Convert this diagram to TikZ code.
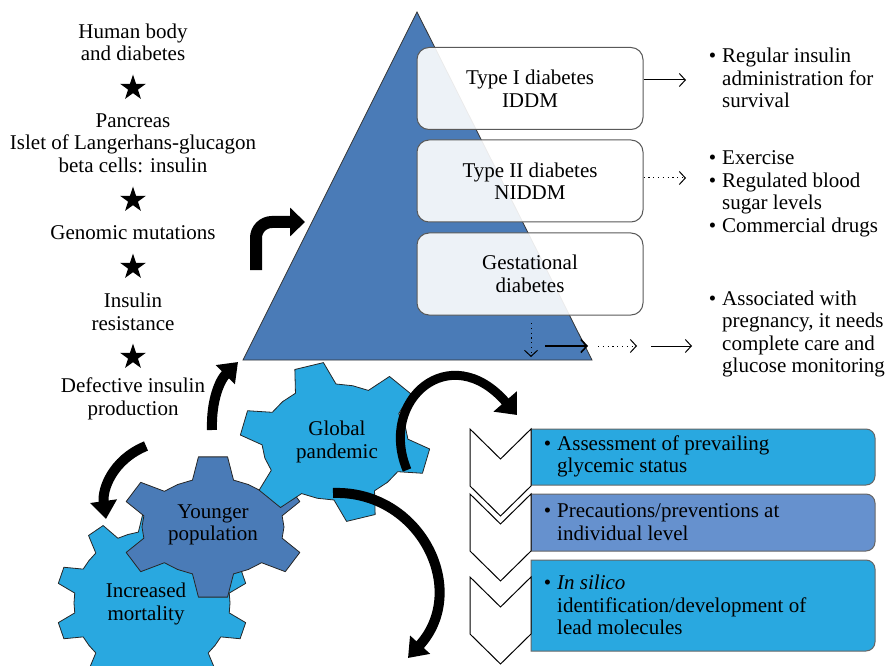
\documentclass[tikz,border=0pt]{standalone}
\usepackage{fontspec}
\setmainfont{Liberation Serif}
\usetikzlibrary{shapes,arrows.meta,positioning,calc}

\definecolor{triblue}{RGB}{74,123,183}
\definecolor{gcyan}{RGB}{41,168,224}
\definecolor{midblue}{RGB}{102,145,206}

\newcommand{\bigtext}{\fontsize{21}{22.5}\selectfont}
\newcommand{\bul}{\leavevmode\llap{\textbullet\hspace{6pt}}}

% gear outline: cx, cy, rx, ry, teeth, rotation, tooth length, colour
\newcommand{\gear}[8]{%
  \draw[gearedge, fill=#8] ({#1+#3*cos(#6+0.5*360/#5)},{#2+#4*sin(#6+0.5*360/#5)})
  \foreach \k in {1,...,#5}{
    -- ({#1+#3*cos(#6+(\k-0.28)*360/#5)},{#2+#4*sin(#6+(\k-0.28)*360/#5)})
    -- ({#1+(#3+#7)*cos(#6+(\k-0.15)*360/#5)},{#2+(#4+#7)*sin(#6+(\k-0.15)*360/#5)})
    -- ({#1+(#3+#7)*cos(#6+(\k+0.15)*360/#5)},{#2+(#4+#7)*sin(#6+(\k+0.15)*360/#5)})
    -- ({#1+#3*cos(#6+(\k+0.28)*360/#5)},{#2+#4*sin(#6+(\k+0.28)*360/#5)})
    -- ({#1+#3*cos(#6+(\k+0.5)*360/#5)},{#2+#4*sin(#6+(\k+0.5)*360/#5)})
  } -- cycle;}

% list box with square left side: top, bottom, colour
\newcommand{\listbox}[3]{%
  \draw[boxedge, fill=#3] (531,#1) -- (866,#1) arc[start angle=90,end angle=0,radius=9pt]
    -- (875,#2-9) arc[start angle=0,end angle=-90,radius=9pt] -- (531,#2) -- cycle;}

% chevron: top
\newcommand{\chev}[1]{%
  \draw[chevron] (470,#1) -- (500.5,#1+30) -- (531,#1) -- (531,#1+57) -- (500.5,#1+87) -- (470,#1+57) -- cycle;}

\begin{document}
\begin{tikzpicture}[x=1pt, y=-1pt]
    \tikzstyle{txt} = [align=center, inner sep=0pt, font=\bigtext]
    \tikzstyle{sidetext} = [align=left, inner sep=0pt, anchor=west, font=\bigtext]
    \tikzstyle{typebox} = [rectangle, rounded corners=12pt, draw=black!65, line width=1pt, fill=white, fill opacity=0.9, text opacity=1, minimum width=226pt, minimum height=82pt, align=center, font=\bigtext]
    \tikzstyle{starmark} = [star, star points=5, star point ratio=2.6, fill=black, inner sep=0pt, minimum size=27pt]
    \tikzstyle{gearedge} = [draw=black!85, line width=0.8pt, line join=round]
    \tikzstyle{boxedge} = [draw=black!60, line width=1pt]
    \tikzstyle{chevron} = [draw=black, fill=white, line width=1pt]
    \tikzstyle{fatarrow} = [line width=10pt, -{Triangle[length=18pt,width=26pt]}]
    \tikzstyle{thinarrow} = [line width=1pt, -{Straight Barb[length=6pt,width=13pt]}]
    \tikzstyle{dotarrow} = [thinarrow, dash pattern=on 1.2pt off 3.6pt]

    \useasboundingbox (0,0) rectangle (887,666);

    % Left column
    \node[txt] (body) at (133,42.5) {Human body\\and diabetes};
    \node[starmark] (s1) at (133,88) {};
    \node[txt] (pancreas) at (133,143) {Pancreas\\Islet of Langerhans-glucagon\\beta cells: insulin};
    \node[starmark] (s2) at (133,200) {};
    \node[txt] (genomic) at (133,233) {Genomic mutations};
    \node[starmark] (s3) at (133,267) {};
    \node[txt] (resist) at (133,312) {Insulin\\resistance};
    \node[starmark] (s4) at (133,357) {};
    \node[txt] (defect) at (133,399) {Defective insulin\\production};

    % Pyramid
    \coordinate (apex) at (417,12);
    \coordinate (baseL) at (243,360);
    \coordinate (baseR) at (592,360);
    \draw[fill=triblue, draw=black!80, line width=0.8pt] (apex) -- (baseR) -- (baseL) -- cycle;

    % Types of diabetes
    \node[typebox] (type1) at (530,88.5) {Type I diabetes\\IDDM};
    \node[typebox] (type2) at (530,181) {Type II diabetes\\NIDDM};
    \node[typebox] (gest) at (530,274) {Gestational\\diabetes};

    % Treatments
    \node[sidetext] (treat1) at (722,78) {\bul Regular insulin\\administration for\\survival};
    \node[sidetext] (treat2) at (722,194) {\bul Exercise\\\bul Regulated blood\\sugar levels\\\bul Commercial drugs};
    \node[sidetext] (treat3) at (722,334) {\bul Associated with\\pregnancy, it needs\\complete care and\\glucose monitoring};

    \coordinate (r1) at (686,80);
    \coordinate (r2) at (686,178);
    \coordinate (d1) at (531,323);
    \coordinate (d2) at (531,357);
    \coordinate (g1) at (545,346);
    \coordinate (g2) at (588,346);
    \coordinate (g3) at (598,346);
    \coordinate (g4) at (637,346);
    \coordinate (g5) at (651,346);
    \coordinate (g6) at (692,346);
    \draw[thinarrow] (type1.east |- r1) -- (r1);
    \draw[dotarrow] (type2.east |- r2) -- (r2);
    \draw[dotarrow] (d1) -- (d2);
    \draw[thinarrow, line width=1.6pt] (g1) -- (g2);
    \draw[dotarrow] (g3) -- (g4);
    \draw[thinarrow] (g5) -- (g6);

    % Gears
    \gear{152}{603}{78}{72}{10}{18}{18}{gcyan}
    \gear{213}{527}{71}{49}{6}{30}{22}{triblue}
    \gear{335}{442}{73}{58}{6}{14}{22}{gcyan}
    \node[txt] (mortality) at (146,604) {Increased\\mortality};
    \node[txt] (younger) at (213,525) {Younger\\population};
    \node[txt] (pandemic) at (337,442) {Global\\pandemic};

    % Steps
    \listbox{429}{485}{gcyan}
    \listbox{494}{551}{midblue}
    \listbox{560}{651}{gcyan}
    \chev{577}
    \chev{494}
    \chev{429}
    \node[sidetext] (assess) at (557,456.5) {\bul Assessment of prevailing\\glycemic status};
    \node[sidetext] (prevent) at (557,522) {\bul Precautions/preventions at\\individual level};
    \node[sidetext] (silico) at (557,605) {\bul \textit{In silico}\\identification/development of\\lead molecules};

    % Black arrows
    \coordinate (a1s) at (256,270);
    \coordinate (a1e) at (305,222);
    \coordinate (a2s) at (212,430);
    \coordinate (a2e) at (238,362);
    \coordinate (a3s) at (146,446);
    \coordinate (a3e) at (106,519);
    \coordinate (a4s) at (407,470);
    \coordinate (a4e) at (517,415);
    \coordinate (a5s) at (333,493);
    \coordinate (a5e) at (408,658);
    \draw[line width=12pt, -{Triangle[length=15pt,width=28pt]}, rounded corners=16pt] (a1s) |- (a1e);
    \draw[fatarrow] (a2s) .. controls (211,400) and (220,380) .. (a2e);
    \draw[fatarrow] (a3s) .. controls (112,460) and (102,490) .. (a3e);
    \draw[fatarrow, line width=9pt, -{Triangle[length=18pt,width=30pt]}] (a4s) .. controls (378,400) and (450,338) .. (a4e);
    \draw[fatarrow] (a5s) .. controls (420,490) and (470,590) .. (a5e);
\end{tikzpicture}
\end{document}
